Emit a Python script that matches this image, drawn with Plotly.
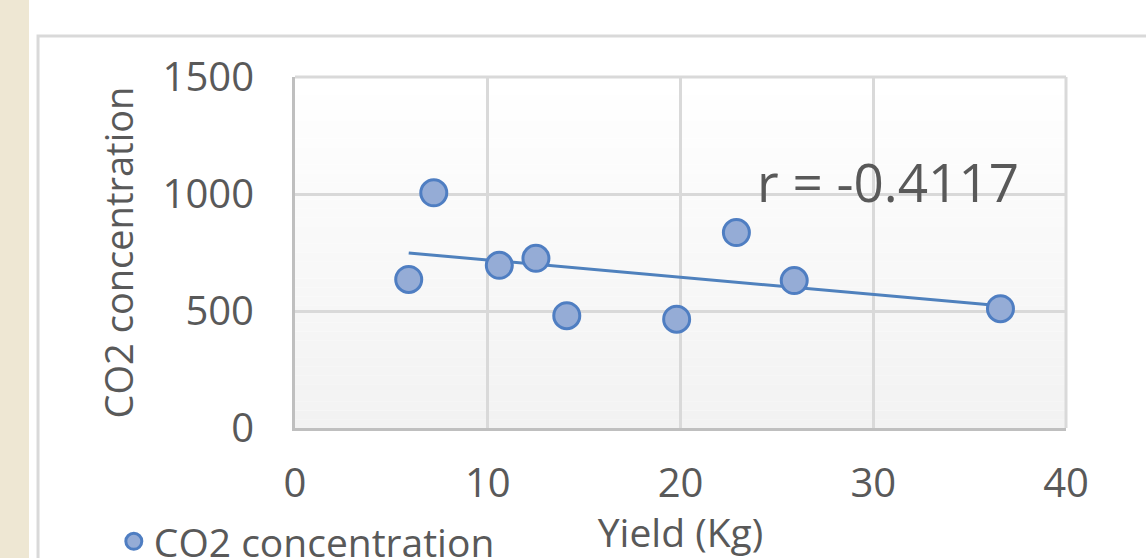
import numpy as np
import plotly.graph_objects as go

# Yield (Kg) vs CO2 concentration readings
yield_kg = [5.9, 7.2, 10.6, 12.5, 14.1, 19.8, 22.9, 25.9, 36.6]
co2_conc = [635, 1005, 695, 725, 480, 465, 835, 630, 510]

x_ticks = [0, 10, 20, 30, 40]
y_ticks = [0, 500, 1000, 1500]
r_label = "r = -0.4117"

TEXT = "#595959"
GRID = "#d9d9d9"
FONT = "Open Sans, DejaVu Sans, sans-serif"

# least-squares linear trendline through the points
slope, intercept = np.polyfit(yield_kg, co2_conc, 1)
trend_x = [min(yield_kg), max(yield_kg)]
trend_y = [slope * v + intercept for v in trend_x]

fig = go.Figure()

fig.add_trace(go.Scatter(
    x=trend_x, y=trend_y, mode="lines",
    line=dict(color="#4f81bd", width=3),
    showlegend=False, hoverinfo="skip",
))

fig.add_trace(go.Scatter(
    x=yield_kg, y=co2_conc, mode="markers",
    name="CO2 concentration",
    marker=dict(size=26, color="#95acd6",
                line=dict(color="#4f7ec2", width=3)),
))

shapes = []
# soft vertical gradient in the plot area (white at top to light grey)
n_bands = 40
for i in range(n_bands):
    t = i / (n_bands - 1)
    g = int(round(255 - 13 * (1 - t)))
    shapes.append(dict(
        type="rect", xref="x domain", yref="y domain",
        x0=0, x1=1, y0=i / n_bands, y1=(i + 1) / n_bands,
        fillcolor=f"rgb({g},{g},{g})", line=dict(width=0), layer="below",
    ))
# top and right edges of the plot area
shapes.append(dict(type="line", xref="x domain", yref="y domain",
                   x0=0, x1=1, y0=1, y1=1, line=dict(color=GRID, width=3)))
shapes.append(dict(type="line", xref="x domain", yref="y domain",
                   x0=1, x1=1, y0=0, y1=1, line=dict(color=GRID, width=3)))
# chart frame
shapes.append(dict(type="rect", xref="paper", yref="paper",
                   x0=-0.3333, x1=1.2, y0=-0.6, y1=1.1168,
                   line=dict(color=GRID, width=3), fillcolor="rgba(0,0,0,0)",
                   layer="below"))
# beige strip on the far left
shapes.append(dict(type="rect", xref="paper", yref="paper",
                   x0=-0.4, x1=-0.345, y0=-0.6, y1=1.3,
                   fillcolor="#eee7d3", line=dict(width=0), layer="below"))

fig.update_layout(
    width=1146, height=558,
    margin=dict(l=295, r=80, t=77, b=130, autoexpand=False),
    paper_bgcolor="white", plot_bgcolor="white",
    font=dict(family=FONT, color=TEXT, size=40),
    shapes=shapes,
    showlegend=True,
    legend=dict(orientation="h", x=-0.235, y=-0.232, xanchor="left", yanchor="top",
                font=dict(size=39, color=TEXT), bgcolor="rgba(0,0,0,0)",
                itemwidth=30),
    annotations=[dict(
        x=1.0, y=1055, xref="x domain", yref="y", text=r_label,
        showarrow=False, xanchor="right", yanchor="middle",
        xshift=-45, font=dict(size=53, color=TEXT, family=FONT),
    )],
)

fig.update_xaxes(
    range=[0, 40], tickvals=x_ticks, ticktext=[str(v) for v in x_ticks],
    showgrid=True, gridcolor=GRID, gridwidth=3,
    showline=True, linecolor="#bfbfbf", linewidth=3,
    zeroline=False, ticks="outside", ticklen=18, tickcolor="rgba(0,0,0,0)",
    tickfont=dict(size=40, color=TEXT),
    title=dict(text="Yield (Kg)", font=dict(size=39, color=TEXT), standoff=46),
    automargin=False,
)
fig.update_yaxes(
    range=[0, 1500], tickvals=y_ticks, ticktext=[str(v) for v in y_ticks],
    showgrid=True, gridcolor=GRID, gridwidth=3,
    showline=True, linecolor="#bfbfbf", linewidth=3,
    zeroline=False, ticks="outside", ticklen=30, tickcolor="rgba(0,0,0,0)",
    tickfont=dict(size=40, color=TEXT),
    title=dict(text="CO2 concentration", font=dict(size=38, color=TEXT), standoff=18),
    automargin=False,
)

fig.write_html("out.html")
